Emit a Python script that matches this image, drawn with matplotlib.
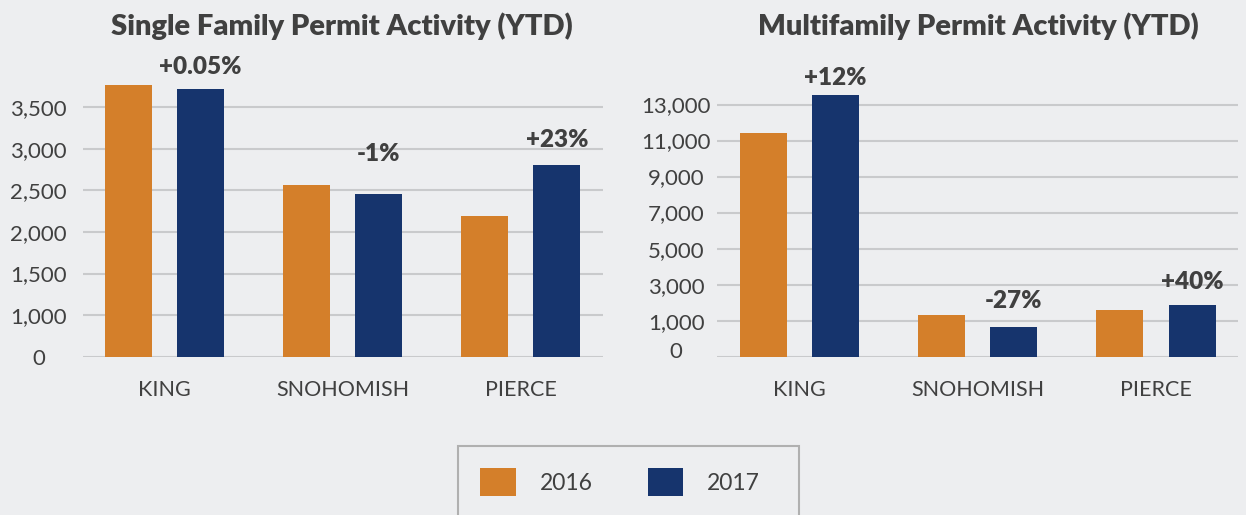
import matplotlib
matplotlib.use("Agg")
import matplotlib.pyplot as plt
from matplotlib.patches import Patch, Rectangle
import matplotlib.transforms as mtransforms
import numpy as np

counties = ["KING", "SNOHOMISH", "PIERCE"]
years = ["2016", "2017"]

# Single family (values as read on the chart's labelled axis)
sf_2016 = [3768, 2568, 2196]
sf_2017 = [3720, 2460, 2808]
sf_pct = ["+0.05%", "-1%", "+23%"]
sf_ticks = [500, 1000, 1500, 2000, 2500, 3000, 3500]
sf_ticklabels = ["0", "1,000", "1,500", "2,000", "2,500", "3,000", "3,500"]

# Multifamily (values as read on the chart's labelled axis)
mf_2016 = [11430, 1335, 1614]
mf_2017 = [13541, 665, 1893]
mf_pct = ["+12%", "-27%", "+40%"]
mf_ticks = [-1000, 1000, 3000, 5000, 7000, 9000, 11000, 13000]
mf_ticklabels = ["0", "1,000", "3,000", "5,000", "7,000", "9,000", "11,000", "13,000"]

# vertical gap (points) between each 2017 bar top and its % label centre
sf_lift = [15.8, 28.8, 18.0]
mf_lift = [12.2, 18.7, 16.6]

BG = "#EDEEF0"
ORANGE = "#D47F2A"
NAVY = "#16346D"
GRID = "#C9CACC"
TXT = "#404040"
FONT = ["Lato", "DejaVu Sans"]

plt.rcParams["font.family"] = FONT

W, H = 1246, 515
fig = plt.figure(figsize=(W / 100, H / 100), dpi=100, facecolor=BG)


def make_axes(x0, x1, ytop, ybot):
    return fig.add_axes([x0 / W, 1 - ybot / H, (x1 - x0) / W, (ybot - ytop) / H])


def draw(ax, v16, v17, pct, lift, ticks, ticklabels, ylim, ypad):
    x = np.arange(len(counties))
    off = 0.2025
    bw = 0.264
    base = ylim[0]
    ax.set_facecolor(BG)
    ax.bar(x - off, np.array(v16) - base, bw, bottom=base, color=ORANGE, zorder=3)
    ax.bar(x + off, np.array(v17) - base, bw, bottom=base, color=NAVY, zorder=3)
    for xi, v, p, l in zip(x, v17, pct, lift):
        ax.annotate(p, (xi + off, v), xytext=(0, l), textcoords="offset points",
                    ha="center", va="center", fontsize=17.5, fontweight="heavy",
                    color=TXT, annotation_clip=False)
    ax.set_ylim(*ylim)
    ax.set_xlim(-0.46, 2.46)
    ax.set_yticks(ticks)
    ax.set_yticklabels(ticklabels, fontsize=16, color=TXT, ha="center")
    ax.set_xticks(x)
    ax.set_xticklabels(counties, fontsize=15.5, color=TXT)
    ax.tick_params(axis="both", length=0)
    ax.tick_params(axis="x", pad=17)
    ax.tick_params(axis="y", pad=ypad)
    ax.grid(axis="y", color=GRID, linewidth=1.5, zorder=0)
    for s in ax.spines.values():
        s.set_visible(False)


ax1 = make_axes(82.7, 602.7, 65.6, 356.7)
draw(ax1, sf_2016, sf_2017, sf_pct, sf_lift, sf_ticks, sf_ticklabels, (500, 4000), 31.8)

ax2 = make_axes(717.3, 1238, 65.6, 356.7)
draw(ax2, mf_2016, mf_2017, mf_pct, mf_lift, mf_ticks, mf_ticklabels, (-1000, 15160), 29.7)
# the "0" label on the multifamily axis sits slightly above the baseline
lbl0 = ax2.get_yticklabels()[0]
lbl0.set_transform(lbl0.get_transform() + mtransforms.ScaledTranslation(0, 7 / 100, fig.dpi_scale_trans))

fig.text(342 / W, 1 - 26 / H, "Single Family Permit Activity (YTD)", ha="center", va="center",
         fontsize=21, fontweight="heavy", color=TXT)
fig.text(978 / W, 1 - 26 / H, "Multifamily Permit Activity (YTD)", ha="center", va="center",
         fontsize=21, fontweight="heavy", color=TXT)

# legend frame (runs off the bottom of the figure, as in the reference)
fig.patches.append(Rectangle((458 / W, -20 / H), (799 - 458) / W, (515 - 446 + 20) / H,
                             transform=fig.transFigure, facecolor="none",
                             edgecolor="#B0B0B0", linewidth=1.5))

handles = [Patch(facecolor=ORANGE, edgecolor="none"), Patch(facecolor=NAVY, edgecolor="none")]
leg = fig.legend(handles, years, loc="center left", bbox_to_anchor=(480 / W, 1 - 482 / H),
                 ncol=2, frameon=False, fontsize=16.5, handlelength=1.55, handleheight=1.55,
                 handletextpad=1.05, columnspacing=2.4, borderpad=0, borderaxespad=0,
                 labelcolor=TXT)

fig.savefig("out.png", dpi=100, facecolor=BG)
